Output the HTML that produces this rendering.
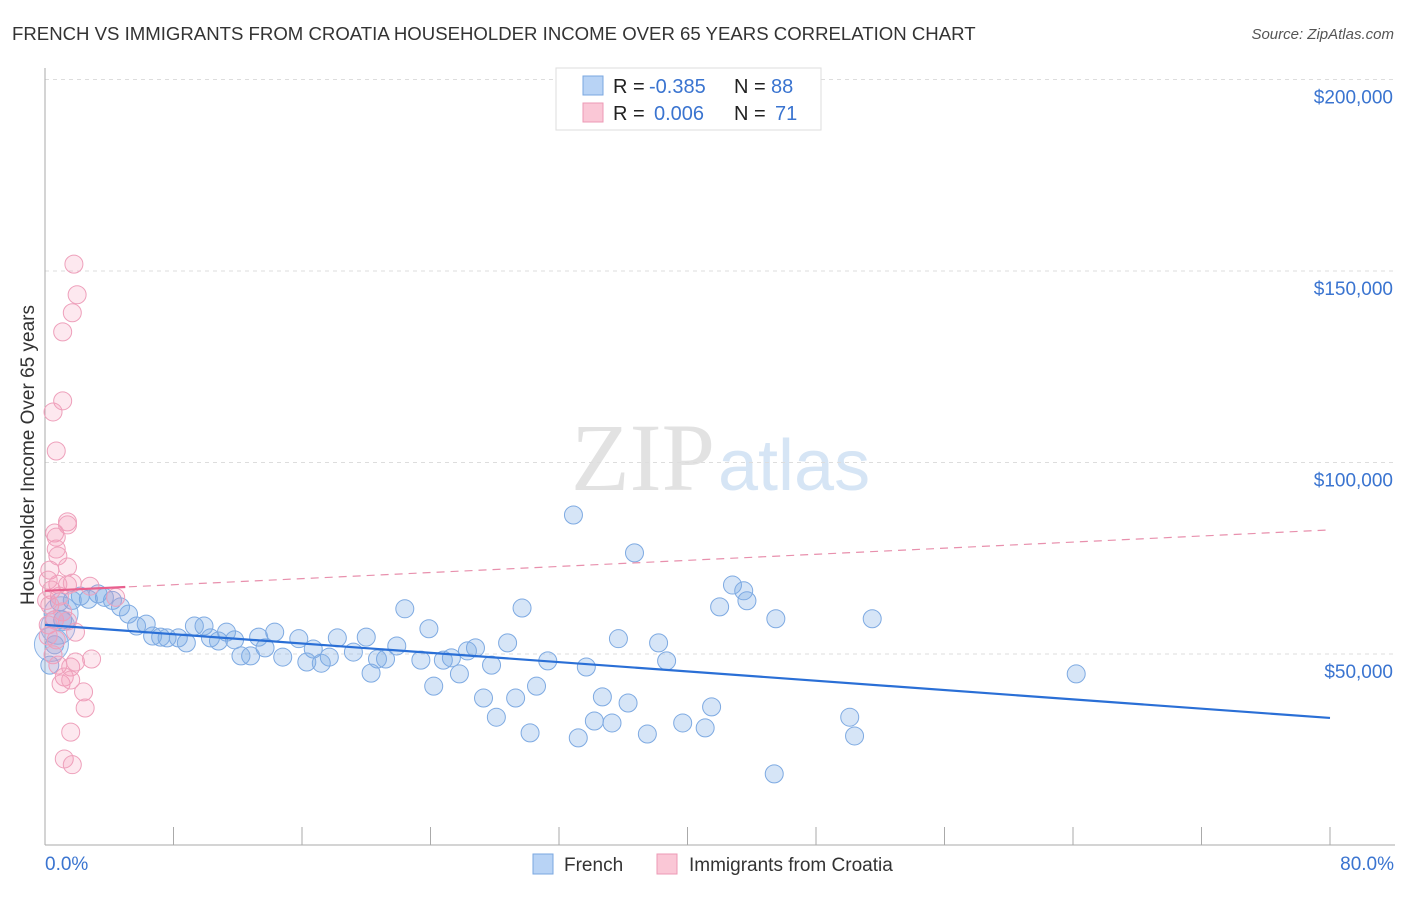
<!DOCTYPE html>
<html><head><meta charset="utf-8"><style>
body{margin:0;background:#fff;font-family:"Liberation Sans",sans-serif}
</style></head><body>
<svg width="1406" height="892" xmlns="http://www.w3.org/2000/svg" id="svg" style="font-family:'Liberation Sans',sans-serif">
<text x="12" y="40" font-size="18.6" fill="#333">FRENCH VS IMMIGRANTS FROM CROATIA HOUSEHOLDER INCOME OVER 65 YEARS CORRELATION CHART</text>
<text x="1394" y="39" font-size="15" fill="#555" font-style="italic" text-anchor="end">Source: ZipAtlas.com</text>
<text x="715" y="490" font-size="96" fill="#e2e2e2" text-anchor="end" font-family="Liberation Serif">ZIP</text>
<text x="718" y="490" font-size="72" fill="#d6e5f5">atlas</text>
<text transform="translate(34,455) rotate(-90)" font-size="19" fill="#333" text-anchor="middle">Householder Income Over 65 years</text>
<g id="grid"></g><g id="axes"></g><g id="marks"></g>
<g>
<rect x="556" y="68" width="265" height="62" fill="#fff" stroke="#ddd"/>
<rect x="583" y="76" width="20" height="19" fill="#b8d3f5" stroke="#7aa7e0"/>
<rect x="583" y="103" width="20" height="19" fill="#fac7d6" stroke="#ec9ab5"/>
<g font-size="20">
<text x="613" y="93" fill="#222">R =</text><text x="649" y="93" fill="#3a74d0">-0.385</text>
<text x="734" y="93" fill="#222">N =</text><text x="771" y="93" fill="#3a74d0">88</text>
<text x="613" y="120" fill="#222">R =</text><text x="654" y="120" fill="#3a74d0">0.006</text>
<text x="734" y="120" fill="#222">N =</text><text x="775" y="120" fill="#3a74d0">71</text>
</g>
</g>
<g>
<rect x="533" y="854" width="20" height="20" fill="#b8d3f5" stroke="#7aa7e0"/>
<text x="564" y="871" font-size="19" fill="#333">French</text>
<rect x="657" y="854" width="20" height="20" fill="#fac7d6" stroke="#ec9ab5"/>
<text x="689" y="871" font-size="19" fill="#333">Immigrants from Croatia</text>
</g>
</svg>
<script>
const yTicks=[50,100,150,200];
const yTickLabels=["$50,000","$100,000","$150,000","$200,000"];
const xTicks=[0,8,16,24,32,40,48,56,64,72,80];
const frenchX=[32.9,36.7,42.8,43.5,43.7,42.0,45.5,51.5,64.2,22.4,29.7,23.9,28.8,35.7,38.2,38.7,31.3,33.7,27.8,26.8,26.3,25.3,24.8,25.8,24.2,23.4,21.9,21.2,20.7,20.3,20,19.2,18.2,17.7,17.2,16.7,16.3,15.8,14.8,14.3,13.7,13.3,12.8,12.2,11.8,11.3,10.8,10.3,9.9,9.3,8.8,8.3,7.6,7.2,6.7,6.3,5.7,5.2,4.7,4.2,3.7,3.3,2.7,2.2,1.7,0.9,1.1,0.6,0.3,27.3,29.3,30.6,28.1,30.2,33.2,34.2,34.7,35.3,36.3,37.5,39.7,41.1,41.5,50.1,50.4,45.4];
const frenchY=[86.3,76.4,68,66.5,63.9,62.3,59.2,59.2,44.8,61.8,62,56.6,52.9,54,52.9,48.2,48.2,46.6,47.1,51.6,50.8,49,48.4,44.8,41.6,48.4,52.1,48.7,48.7,45,54.4,50.5,54.2,49.2,47.6,51.3,47.9,54,49.2,55.7,51.6,54.4,49.5,49.5,53.7,55.7,53.4,54.2,57.3,57.3,52.9,54.2,54.2,54.4,54.7,57.8,57.3,60.4,62.3,64,64.8,65.7,64.3,65.1,64,63.6,58.9,52.4,47.1,38.5,38.5,41.6,33.5,29.4,28.1,32.5,38.8,32,37.2,29.1,32,30.7,36.2,33.5,28.6,18.7];
const frenchBigX=[1.0,0.8,0.4];
const frenchBigY=[60.5,57.0,52.5];
const croatiaX=[1.8,2.0,1.7,1.1,1.1,0.5,0.7,1.4,1.4,0.6,0.7,0.7,0.8,1.4,0.3,1.4,0.8,0.2,1.7,0.4,0.9,2.8,4.4,0.3,1.1,0.6,0.2,1.4,1.9,0.2,0.7,0.5,2.9,0.8,1.6,1.9,1.2,1.0,1.6,2.4,2.5,1.6,1.2,1.7,0.1];
const croatiaY=[151.8,143.8,139.1,134.1,116.1,113.2,103,84.5,83.7,81.6,80.5,77.4,75.6,72.7,71.9,68,68.2,69.3,68.5,66.7,65.1,67.7,64.8,62.8,61,58.9,57.6,58.6,55.7,54.7,53.7,49.8,48.7,47.1,46.6,47.9,44,42.2,43.2,40.1,35.9,29.6,22.6,21.1,64];
const frenchTrend=[57.6,33.3];
const croatiaTrend=[66.5,82.4];
const X=v=>45+v/80*1285, Y=v=>845.5-v*3.83;
const NS="http://www.w3.org/2000/svg";
function mk(p,tag,at){const e=document.createElementNS(NS,tag);for(const k in at)e.setAttribute(k,at[k]);document.getElementById(p).appendChild(e);return e;}
yTicks.forEach((t,i)=>{
 const g=mk('grid','line',{x1:45,x2:1395,y1:Y(t),y2:Y(t),stroke:'#ddd','stroke-dasharray':'4,4'});
 
 
 const l=mk('grid','text',{x:1393,y:Y(t)+24,'font-size':19,fill:'#3a74d0','text-anchor':'end'});
 l.textContent=yTickLabels[i];
 
 
});
const ax=mk('axes','line',{x1:45,x2:45,y1:68,y2:845,stroke:'#aaa'});


const bx=mk('axes','line',{x1:45,x2:1395,y1:845,y2:845,stroke:'#aaa'});


xTicks.forEach(t=>{
 const k=mk('axes','line',{x1:X(t),x2:X(t),y1:827,y2:845,stroke:'#aaa'});
 
 
});
const xl0=mk('axes','text',{x:45,y:870,'font-size':19,fill:'#3a74d0'});xl0.textContent=xTicks[0].toFixed(1)+'%';


const xl1=mk('axes','text',{x:1394,y:870,'font-size':19,fill:'#3a74d0','text-anchor':'end'});xl1.textContent=xTicks[xTicks.length-1].toFixed(1)+'%';


frenchBigX.forEach((x,i)=>{
 const c=mk('marks','circle',{cx:X(x),cy:Y(frenchBigY[i]),r:17,fill:'rgba(120,170,230,0.22)',stroke:'#8cb4e6','stroke-width':1});
 
 
});
frenchX.forEach((x,i)=>{
 const c=mk('marks','circle',{cx:X(x),cy:Y(frenchY[i]),r:9,fill:'rgba(120,170,230,0.3)',stroke:'#7eaae2','stroke-width':1});
 
 
});
croatiaX.forEach((x,i)=>{
 const c=mk('marks','circle',{cx:X(x),cy:Y(croatiaY[i]),r:9,fill:'rgba(245,150,180,0.22)',stroke:'#eea0bb','stroke-width':1});
 
 
});
const ft=mk('marks','line',{x1:X(0),y1:Y(frenchTrend[0]),x2:X(80),y2:Y(frenchTrend[1]),stroke:'#2a6fd6','stroke-width':2.2});


const cd=mk('marks','line',{x1:X(0),y1:Y(croatiaTrend[0]),x2:X(80),y2:Y(croatiaTrend[1]),stroke:'#e890ad','stroke-width':1.2,'stroke-dasharray':'8,6'});


const c5=croatiaTrend[0]+(croatiaTrend[1]-croatiaTrend[0])*5/80;
const cs=mk('marks','line',{x1:X(0),y1:Y(croatiaTrend[0]),x2:X(5),y2:Y(c5),stroke:'#e8608e','stroke-width':2.2});


</script>
</body></html>
